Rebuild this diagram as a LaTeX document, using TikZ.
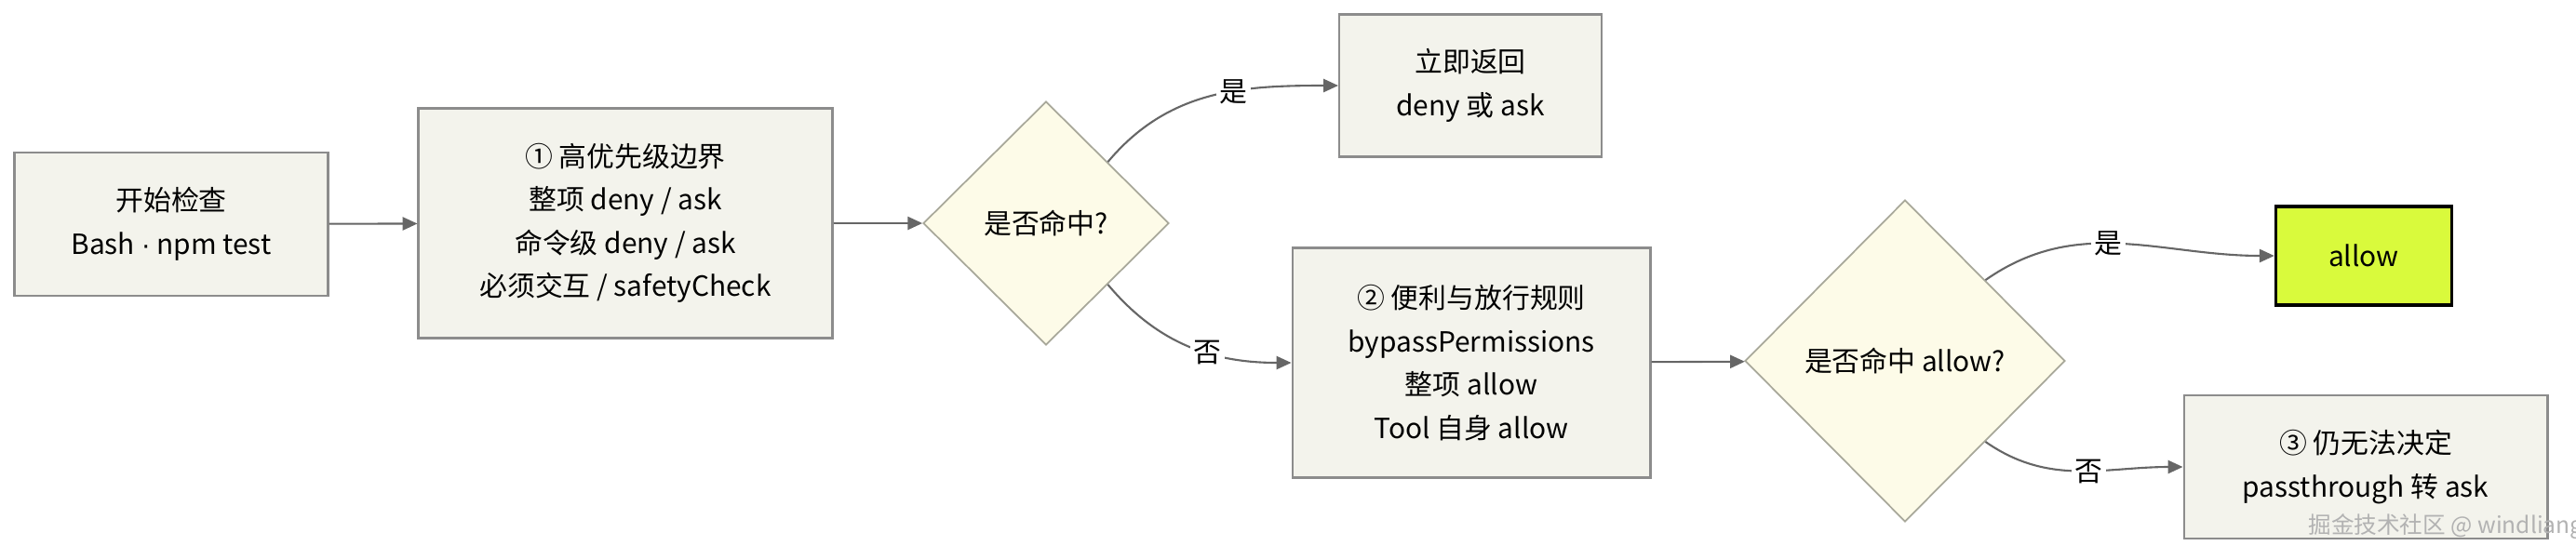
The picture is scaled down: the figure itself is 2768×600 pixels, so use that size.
\documentclass[tikz,border=0pt]{standalone}
\usepackage{fontspec}
\setmainfont{Noto Sans CJK SC}
\newfontfamily\latin{Liberation Sans}
\usetikzlibrary{shapes.geometric,arrows.meta}
\definecolor{boxfill}{HTML}{F3F3EC}
\definecolor{boxline}{HTML}{8C8C8C}
\definecolor{decfill}{HTML}{FDFBE8}
\definecolor{decline}{HTML}{A8A89A}
\definecolor{edgecol}{HTML}{666666}
\definecolor{allowfill}{HTML}{D9FA3C}
\begin{document}
\begin{tikzpicture}[
   x=0.02cm,y=-0.02cm,
   every node/.style={font=\fontsize{17}{26.5}\selectfont,align=center},
   stage/.style={draw=boxline,fill=boxfill,line width=1.2pt,inner sep=0pt},
   check/.style={diamond,draw=decline,fill=decfill,line width=1pt,inner sep=0pt},
   to/.style={-{Triangle[length=9pt,width=8pt]},draw=edgecol,line width=1.2pt},
   lbl/.style={fill=white,inner sep=2pt}]
\useasboundingbox (0,0) rectangle (2768,600);
\node[stage,minimum width=6.74cm,minimum height=3.08cm] (start) at (184,241) {开始检查\\Bash {\latin ·} npm test};
\node[stage,minimum width=8.9cm,minimum height=4.94cm] (high) at (672,240) {① 高优先级边界\\整项 deny / ask\\命令级 deny / ask\\必须交互 / safetyCheck};
\node[check,minimum width=5.28cm,minimum height=5.24cm] (hit) at (1124,240) {是否命中?};
\node[stage,minimum width=5.64cm,minimum height=3.06cm] (ret) at (1580,92) {立即返回\\deny 或 ask};
\node[stage,minimum width=7.7cm,minimum height=4.94cm] (conv) at (1581,390) {② 便利与放行规则\\bypassPermissions\\整项 allow\\Tool 自身 allow};
\node[check,minimum width=6.88cm,minimum height=6.92cm] (hitallow) at (2047,388) {是否命中 allow?};
\node[draw=black,fill=allowfill,line width=2pt,minimum width=3.78cm,minimum height=2.12cm] (allow) at (2540,275) {allow};
\node[stage,minimum width=7.82cm,minimum height=3.08cm] (undec) at (2542,502) {③ 仍无法决定\\passthrough 转 ask};
\node[text=gray!60,font=\fontsize{14}{15}\selectfont] (mark) at (2628,566) {掘金技术社区 @ windliang};
\draw[to] (start) -- (high);
\draw[to] (high) -- (hit);
\draw[to] (hit.north east) to[out=50,in=180] node[lbl,pos=0.6] {是} (ret.west);
\draw[to] (hit.south east) to[out=-50,in=180] node[lbl,pos=0.6] {否} (conv.west);
\draw[to] (conv) -- (hitallow);
\draw[to] (hitallow.north east) to[out=35,in=180] node[lbl,pos=0.45] {是} (allow.west);
\draw[to] (hitallow.south east) to[out=-35,in=180] node[lbl,pos=0.55] {否} (undec.west);
\end{tikzpicture}
\end{document}
